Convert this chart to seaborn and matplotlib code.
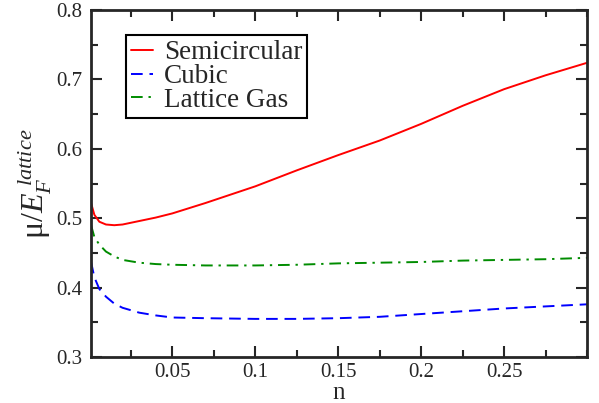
import numpy as np
import pandas as pd
import matplotlib
matplotlib.use("Agg")
import matplotlib.pyplot as plt
from matplotlib.ticker import MultipleLocator
import seaborn as sns

# values
n = [0.001, 0.003, 0.006, 0.01, 0.015, 0.02, 0.03, 0.04, 0.05, 0.07,
     0.1, 0.125, 0.15, 0.175, 0.2, 0.225, 0.25, 0.275, 0.3]
semicircular = [0.522, 0.505, 0.495, 0.491, 0.490, 0.491, 0.496, 0.501, 0.507, 0.522,
                0.546, 0.569, 0.591, 0.612, 0.636, 0.662, 0.686, 0.706, 0.724]
cubic = [0.437, 0.415, 0.398, 0.387, 0.377, 0.371, 0.364, 0.360, 0.357, 0.356,
         0.355, 0.355, 0.356, 0.358, 0.362, 0.366, 0.370, 0.373, 0.376]
lattice_gas = [0.490, 0.473, 0.462, 0.452, 0.445, 0.440, 0.436, 0.434, 0.433, 0.432,
               0.432, 0.433, 0.435, 0.436, 0.437, 0.439, 0.440, 0.441, 0.443]

sns.set_style("ticks")
plt.rcParams['font.family'] = ['Liberation Serif', 'DejaVu Serif']
plt.rcParams['mathtext.fontset'] = 'custom'
plt.rcParams['mathtext.rm'] = 'Liberation Serif'
plt.rcParams['mathtext.it'] = 'Liberation Serif:italic'

fig = plt.figure(figsize=(5.99, 4.03), dpi=100)
ax = fig.add_axes([0.152, 0.114, 0.828, 0.861])

sns.lineplot(x=n, y=semicircular, color='#ff0000', lw=1.4, label='Semicircular', ax=ax)
sns.lineplot(x=n, y=cubic, color='#0000ff', lw=1.4, linestyle=(0, (6, 3.5)), label='Cubic', ax=ax)
sns.lineplot(x=n, y=lattice_gas, color='#008c00', lw=1.4, linestyle=(0, (6, 3, 1.2, 3)),
             label='Lattice Gas', ax=ax)

ax.set_xlim(0.001, 0.3)
ax.set_ylim(0.3, 0.8)
ax.xaxis.set_minor_locator(MultipleLocator(0.025))
ax.yaxis.set_minor_locator(MultipleLocator(0.05))
ax.set_xticks([0.05, 0.1, 0.15, 0.2, 0.25])
ax.set_xticklabels(['0.05', '0.1', '0.15', '0.2', '0.25'])
ax.set_yticks([0.3, 0.4, 0.5, 0.6, 0.7, 0.8])
ax.set_yticklabels(['0.3', '0.4', '0.5', '0.6', '0.7', '0.8'])

ax.tick_params(which='both', direction='in', top=True, right=True, width=1.5, labelsize=15)
ax.tick_params(which='major', length=8)
ax.tick_params(axis='y', which='major', pad=6)
ax.tick_params(axis='x', which='major', pad=4)
ax.tick_params(which='minor', length=5)
for s in ax.spines.values():
    s.set_linewidth(2)

ax.set_xlabel('n', fontsize=18, labelpad=0)
ax.set_ylabel(r'$\mathrm{\mu}/E_F^{\,\,lattice}$', fontsize=23, labelpad=2)

leg = ax.legend(loc='upper left', bbox_to_anchor=(0.07, 0.928), fontsize=19.5,
                handlelength=0.8, handletextpad=0.4, labelspacing=-0.05,
                borderpad=0.2, borderaxespad=0, fancybox=False, frameon=True)
leg.get_frame().set_edgecolor('black')
leg.get_frame().set_linewidth(1.5)
leg.get_frame().set_alpha(1)

fig.savefig('out.png', dpi=100)
